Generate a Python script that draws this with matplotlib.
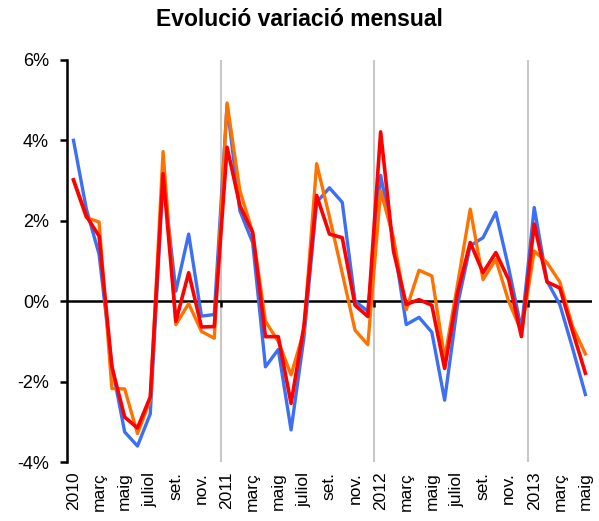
import numpy as np
import matplotlib.pyplot as plt

plt.rcParams['font.family'] = ['Liberation Sans', 'DejaVu Sans']

# etiquetes de l'eix x (cada dos mesos)
etiquetes = ['2010', 'març', 'maig', 'juliol', 'set.', 'nov.',
             '2011', 'març', 'maig', 'juliol', 'set.', 'nov.',
             '2012', 'març', 'maig', 'juliol', 'set.', 'nov.',
             '2013', 'març', 'maig']

# variació mensual (%), gener 2010 - maig 2013
blau = [4.0, 2.3, 1.17, -1.6, -3.25, -3.6, -2.8, 3.1, 0.25, 1.67, -0.37, -0.33,
        4.88, 2.25, 1.46, -1.63, -1.2, -3.2, -0.92, 2.46, 2.82, 2.46, 0.0, -0.25,
        3.13, 1.5, -0.58, -0.4, -0.77, -2.46, -0.1, 1.38, 1.58, 2.21, 0.83, -0.7,
        2.33, 0.5, -0.08, -1.17, -2.32]
taronja = [3.0, 2.08, 1.97, -2.17, -2.18, -3.29, -2.45, 3.72, -0.58, -0.06, -0.75, -0.92,
           4.93, 2.75, 1.71, -0.5, -1.0, -1.83, -0.75, 3.42, 2.1, 0.7, -0.72, -1.08,
           2.75, 1.58, -0.21, 0.77, 0.63, -1.42, 0.4, 2.29, 0.54, 1.04, 0.0, -0.75,
           1.25, 0.96, 0.48, -0.63, -1.31]
vermell = [3.02, 2.12, 1.62, -1.63, -2.88, -3.15, -2.38, 3.17, -0.5, 0.71, -0.64, -0.63,
           3.83, 2.38, 1.71, -0.88, -0.88, -2.54, -0.63, 2.63, 1.67, 1.58, -0.1, -0.38,
           4.21, 1.25, -0.08, 0.04, -0.1, -1.67, 0.2, 1.46, 0.71, 1.21, 0.54, -0.88,
           1.92, 0.48, 0.33, -0.75, -1.79]

n = np.arange(len(blau))

fig = plt.figure(figsize=(5.99, 5.21), dpi=100)
ax = fig.add_axes([0.112, 0.113, 0.876, 0.772])

# separadors d'any
for xs in [11.5, 23.5, 35.5]:
    ax.axvline(xs, color='#c8c8c8', linewidth=1.5, zorder=0)
ax.axhline(0, color='k', linewidth=1.8, zorder=1)
ax.vlines([11.5, 23.5, 35.5], -0.15, 0, color='k', linewidth=1.8, zorder=1)

ax.plot(n, blau, color='#3d6ff5', linewidth=2.4, zorder=2)
ax.plot(n, taronja, color='#ff7200', linewidth=2.4, zorder=3)
ax.plot(n, vermell, color='#ff0000', linewidth=2.6, zorder=4)

ax.set_xlim(-0.5, len(blau) - 0.5)
ax.set_ylim(-4, 6)
ax.set_yticks([-4, -2, 0, 2, 4, 6])
ax.set_yticklabels(['-4%', '-2%', '0%', '2%', '4%', '6%'], fontsize=13)
ax.set_xticks(n[::2])
ax.set_xticklabels(etiquetes, rotation=90, fontsize=12.5)
ax.tick_params(axis='x', length=0, pad=7)
ax.tick_params(axis='y', length=5, width=1.8, pad=8)

for s in ['top', 'right', 'bottom']:
    ax.spines[s].set_visible(False)
ax.spines['left'].set_linewidth(1.8)

fig.suptitle('Evolució variació mensual', fontsize=16.5, fontweight='bold', y=0.985)

fig.savefig('out.png', dpi=100)
